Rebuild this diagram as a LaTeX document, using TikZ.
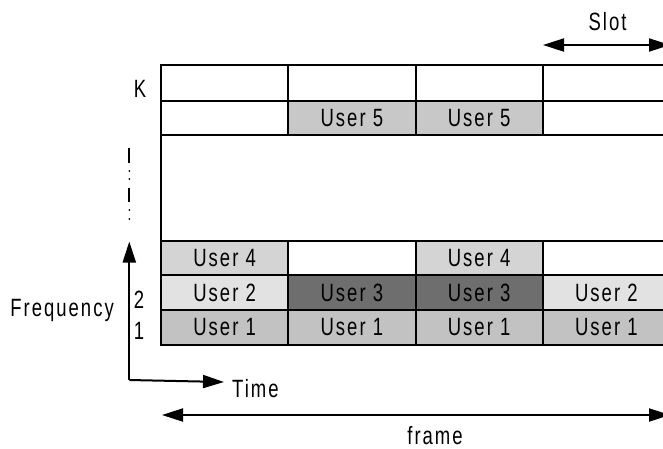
\documentclass[tikz,border=0pt]{standalone}
\usepackage{fontspec}
\setmainfont{Liberation Sans}[FakeStretch=0.74,LetterSpace=8]
\usetikzlibrary{arrows.meta}
\definecolor{uone}{HTML}{C2C2C2}
\definecolor{utwo}{HTML}{E2E2E2}
\definecolor{uthree}{HTML}{6E6E6E}
\definecolor{ufour}{HTML}{D4D4D4}
\definecolor{ufive}{HTML}{C8C8C8}
\begin{document}
\begin{tikzpicture}[x=1pt,y=-1pt,
  cell/.style={draw=black, line width=2pt, inner sep=0pt, minimum width=127.25pt,
    font=\fontsize{25}{25}\selectfont},
  lbl/.style={font=\fontsize{25}{25}\selectfont, inner sep=0pt},
  arr/.style={line width=2pt, -{Triangle[length=21pt,width=13pt]}},
  darr/.style={line width=2pt, {Triangle[length=21pt,width=13pt]}-{Triangle[length=21pt,width=13pt]}},
  rowA/.style={minimum height=36pt},
  rowB/.style={minimum height=34pt},
  rowC/.style={minimum height=34pt},
  rowD/.style={minimum height=35pt},
  rowE/.style={minimum height=35pt},
]
\useasboundingbox (0,0) rectangle (663,448);
\clip (0,0) rectangle (663,448);
% top row K
\node[cell,rowA] (a1) at (224.625,83) {};
\node[cell,rowA] (a2) at (351.875,83) {};
\node[cell,rowA] (a3) at (479.125,83) {};
\node[cell,rowA] (a4) at (606.375,83) {};
% row with user 5
\node[cell,rowB] (b1) at (224.625,118) {};
\node[cell,rowB,fill=ufive] (b2) at (351.875,118) {User 5};
\node[cell,rowB,fill=ufive] (b3) at (479.125,118) {User 5};
\node[cell,rowB] (b4) at (606.375,118) {};
% blank region
\node[cell,minimum width=509pt,minimum height=106pt] (blank) at (415.5,188) {};
% user 4 row
\node[cell,rowC,fill=ufour] (c1) at (224.625,258) {User 4};
\node[cell,rowC] (c2) at (351.875,258) {};
\node[cell,rowC,fill=ufour] (c3) at (479.125,258) {User 4};
\node[cell,rowC] (c4) at (606.375,258) {};
% row 2
\node[cell,rowD,fill=utwo] (d1) at (224.625,292.5) {User 2};
\node[cell,rowD,fill=uthree] (d2) at (351.875,292.5) {User 3};
\node[cell,rowD,fill=uthree] (d3) at (479.125,292.5) {User 3};
\node[cell,rowD,fill=utwo] (d4) at (606.375,292.5) {User 2};
% row 1
\node[cell,rowE,fill=uone] (e1) at (224.625,327.5) {User 1};
\node[cell,rowE,fill=uone] (e2) at (351.875,327.5) {User 1};
\node[cell,rowE,fill=uone] (e3) at (479.125,327.5) {User 1};
\node[cell,rowE,fill=uone] (e4) at (606.375,327.5) {User 1};
% side labels
\node[lbl] (k) at (140,89) {K};
\node[lbl] (two) at (139,300) {2};
\node[lbl] (one) at (139,331) {1};
\node[lbl,anchor=base east] (freq) at (114,316.5) {Frequency};
\node[lbl,anchor=base west] (time) at (232,397) {Time};
\node[lbl,anchor=base] (framel) at (435,444) {frame};
\node[lbl,anchor=base] (slotl) at (607.5,30.5) {Slot};
% dotted vertical ellipsis
\draw[line width=2pt] (129.3,148) -- (129.3,163);
\draw[line width=2pt] (129.3,188) -- (129.3,202);
\fill (129.3,171) circle (1pt) (129.3,179) circle (1pt)
      (129.3,210) circle (1pt) (129.3,219) circle (1pt);
% axes
\coordinate (origin) at (129.3,380);
\coordinate (ftip) at (129.3,241.5);
\coordinate (ttip) at (224,382);
\draw[arr] (origin) -- (ftip);
\draw[arr] (origin) -- (ttip);
% slot and frame arrows
\coordinate (sL) at (543,45);
\coordinate (sR) at (670,45);
\draw[darr] (sL) -- (sR);
\coordinate (fL) at (162,415);
\coordinate (fR) at (670,415);
\draw[darr] (fL) -- (fR);
\end{tikzpicture}
\end{document}
